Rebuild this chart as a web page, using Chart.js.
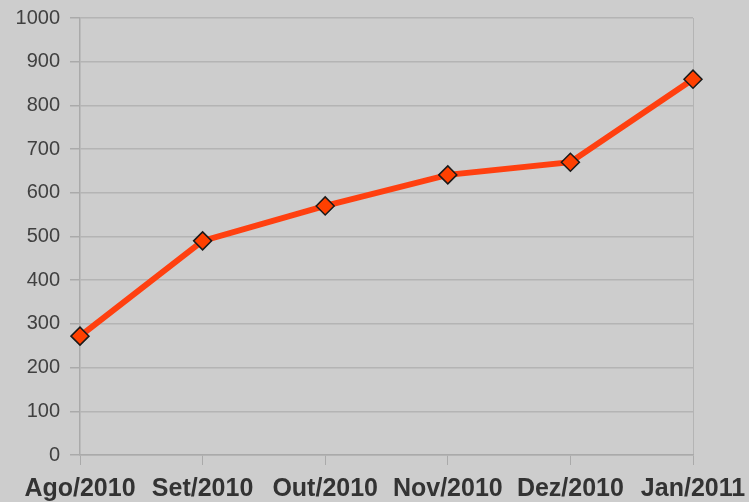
<!DOCTYPE html>
<html>
<head>
<meta charset="utf-8">
<script src="https://cdn.jsdelivr.net/npm/chart.js@4"></script>
<style>
html,body{margin:0;padding:0;background:#cdcdcd;}
#wrap{width:749px;height:502px;position:relative;}
</style>
</head>
<body>
<div id="wrap"><canvas id="c" width="749" height="502"></canvas></div>
<script>
const categories = ["Ago/2010","Set/2010","Out/2010","Nov/2010","Dez/2010","Jan/2011"];
const values = [272, 490, 570, 641, 670, 860];
const yTicks = [0,100,200,300,400,500,600,700,800,900,1000];

const bgPlugin = {
  id:'bg',
  beforeDraw(chart){
    const ctx = chart.ctx;
    ctx.save();
    ctx.fillStyle = '#cdcdcd';
    ctx.fillRect(0,0,chart.width,chart.height);
    ctx.restore();
  }
};

new Chart(document.getElementById('c'), {
  type:'line',
  data:{
    labels:categories,
    datasets:[{
      data:values,
      borderColor:'#ff4010',
      borderWidth:6,
      tension:0,
      pointStyle:'rectRot',
      pointRadius:9,
      pointHoverRadius:9,
      pointBackgroundColor:'#ff4000',
      pointBorderColor:'#1a1a1a',
      pointBorderWidth:1.5
    }]
  },
  options:{
    responsive:false,
    animation:false,
    events:[],
    layout:{padding:{top:18,right:56,left:0,bottom:0}},
    plugins:{legend:{display:false},tooltip:{enabled:false}},
    scales:{
      x:{
        offset:false,
        border:{display:true,color:'#aaaaaa',width:1.5},
        grid:{
          color:(c)=> (c.index===categories.length-1 ? '#b4b4b4' : 'rgba(0,0,0,0)'),
          tickColor:'#aaaaaa',
          tickLength:10,
          drawTicks:true
        },
        ticks:{
          autoSkip:false,maxRotation:0,minRotation:0,
          color:'#333333',
          font:{family:'Liberation Sans, Arial, sans-serif',size:25,weight:'bold'},
          padding:9
        },
        afterFit(s){ s.height = 47; s.paddingLeft=0; s.paddingRight=0; }
      },
      y:{
        min:0,max:1000,
        border:{display:true,color:'#aaaaaa',width:1.5},
        grid:{color:'#b4b4b4',lineWidth:1.5,tickLength:10,tickColor:'#aaaaaa'},
        afterBuildTicks(s){ s.ticks = yTicks.map(v=>({value:v})); },
        ticks:{
          color:'#404040',
          font:{family:'Liberation Sans, Arial, sans-serif',size:20},
          padding:10,
          callback:(v)=>String(v)
        },
        afterFit(s){ s.width = 80; s.paddingTop=0; s.paddingBottom=0; }
      }
    }
  },
  plugins:[bgPlugin]
});
</script>
</body>
</html>
